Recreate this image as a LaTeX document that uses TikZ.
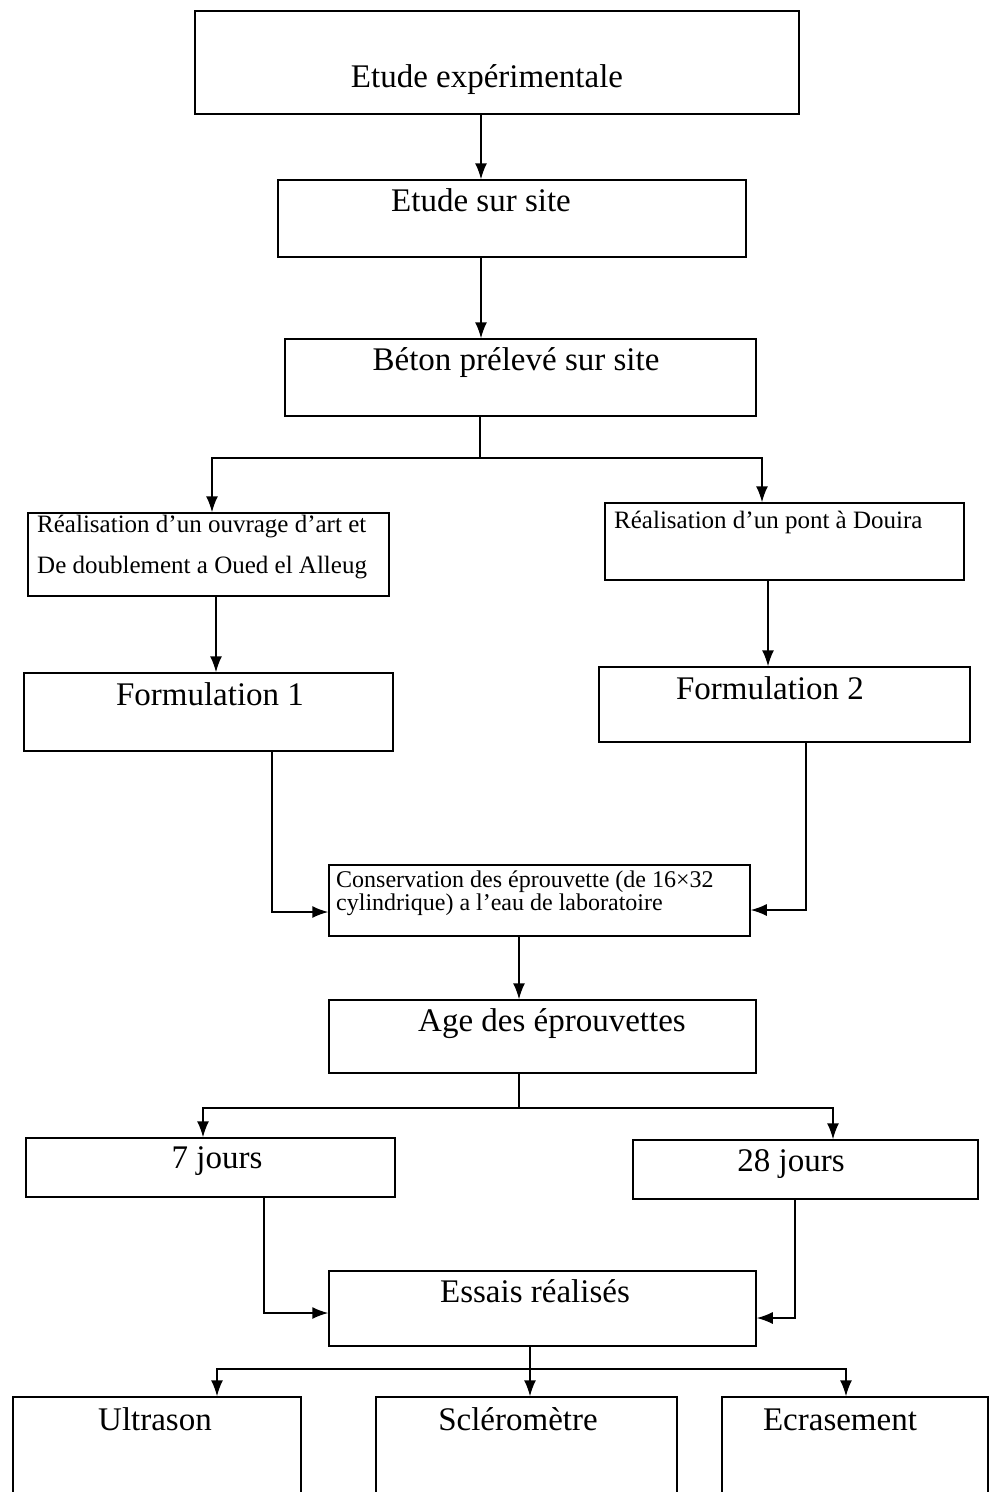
\documentclass[tikz,border=0pt]{standalone}
\usepackage{fontspec}
\setmainfont{Liberation Serif}
\usetikzlibrary{arrows.meta,fit}
\begin{document}
\begin{tikzpicture}[x=1pt,y=-1pt,
  box/.style={draw, line width=1.5pt, inner sep=0pt},
  big/.style={font=\fontsize{33}{36}\selectfont, anchor=base, inner sep=0pt},
  small/.style={font=\fontsize{25}{30}\selectfont, anchor=base west, inner sep=0pt},
  tiny/.style={font=\fontsize{24}{28}\selectfont, anchor=base west, inner sep=0pt},
  conn/.style={line width=1.5pt},
  arr/.style={conn, -{Latex[length=16pt,width=12pt]}}]
\useasboundingbox (0,0) rectangle (990,1492);
\clip (0,0) rectangle (990,1492);
\fill[white] (0,0) rectangle (990,1492);

% boxes
\node[box, fit={(195,11) (799,114)}] (b1) {};
\node[box, fit={(278,180) (746,257)}] (b2) {};
\node[box, fit={(285,339) (756,416)}] (b3) {};
\node[box, fit={(28,513) (389,596)}] (b4) {};
\node[box, fit={(605,503) (964,580)}] (b5) {};
\node[box, fit={(24,673) (393,751)}] (b6) {};
\node[box, fit={(599,667) (970,742)}] (b7) {};
\node[box, fit={(329,865) (750,936)}] (b8) {};
\node[box, fit={(329,1000) (756,1073)}] (b9) {};
\node[box, fit={(26,1138) (395,1197)}] (b10) {};
\node[box, fit={(633,1140) (978,1199)}] (b11) {};
\node[box, fit={(329,1271) (756,1346)}] (b12) {};
\node[box, fit={(13,1397) (301,1515)}] (b13) {};
\node[box, fit={(376,1397) (677,1515)}] (b14) {};
\node[box, fit={(722,1397) (988,1515)}] (b15) {};

% texts
\node[big] (t1) at (487,87) {Etude expérimentale};
\node[big] (t2) at (481,211) {Etude sur site};
\node[big] (t3) at (516,370) {Béton prélevé sur site};
\node[small] (t4a) at (37,532) {Réalisation d’un ouvrage d’art et};
\node[small] (t4b) at (37,573) {De doublement a Oued el Alleug};
\node[small] (t5) at (614,528) {Réalisation d’un pont à Douira};
\node[big] (t6) at (210,705) {Formulation 1};
\node[big] (t7) at (770,699) {Formulation 2};
\node[tiny] (t8a) at (336,887) {Conservation des éprouvette (de 16×32};
\node[tiny] (t8b) at (336,910) {cylindrique) a l’eau de laboratoire};
\node[big] (t9) at (552,1031) {Age des éprouvettes};
\node[big] (t10) at (217,1168) {7 jours};
\node[big] (t11) at (791,1171) {28 jours};
\node[big] (t12) at (535,1302) {Essais réalisés};
\node[big] (t13) at (155,1430) {Ultrason};
\node[big] (t14) at (518,1430) {Scléromètre};
\node[big] (t15) at (840,1430) {Ecrasement};

% helper coordinates
\coordinate (c1) at (481,0);
\coordinate (j1) at (480,458);
\coordinate (c4) at (212,0);
\coordinate (c5) at (762,0);
\coordinate (c46) at (216,0);
\coordinate (c57) at (768,0);
\coordinate (c6) at (272,0);
\coordinate (r6) at (0,912);
\coordinate (c7) at (806,0);
\coordinate (r7) at (0,910);
\coordinate (c89) at (519,0);
\coordinate (j2) at (519,1108);
\coordinate (c10) at (203,0);
\coordinate (c11) at (833,0);
\coordinate (c10b) at (264,0);
\coordinate (r10) at (0,1313);
\coordinate (c11b) at (795,0);
\coordinate (r11) at (0,1318);
\coordinate (j3) at (530,1369);
\coordinate (c13) at (217,0);
\coordinate (c15) at (846,0);

% connectors
\draw[arr] (b1.south -| c1) -- (b2.north -| c1);
\draw[arr] (b2.south -| c1) -- (b3.north -| c1);
\draw[conn] (b3.south -| j1) -- (j1);
\draw[arr] (j1) -| (b4.north -| c4);
\draw[arr] (j1) -| (b5.north -| c5);
\draw[arr] (b4.south -| c46) -- (b6.north -| c46);
\draw[arr] (b5.south -| c57) -- (b7.north -| c57);
\draw[arr] (b6.south -| c6) |- (b8.west |- r6);
\draw[arr] (b7.south -| c7) |- (b8.east |- r7);
\draw[arr] (b8.south -| c89) -- (b9.north -| c89);
\draw[conn] (b9.south -| j2) -- (j2);
\draw[arr] (j2) -| (b10.north -| c10);
\draw[arr] (j2) -| (b11.north -| c11);
\draw[arr] (b10.south -| c10b) |- (b12.west |- r10);
\draw[arr] (b11.south -| c11b) |- (b12.east |- r11);
\draw[conn] (b12.south -| j3) -- (j3);
\draw[arr] (j3) -| (b13.north -| c13);
\draw[arr] (j3) -- (b14.north -| j3);
\draw[arr] (j3) -| (b15.north -| c15);
\end{tikzpicture}
\end{document}
